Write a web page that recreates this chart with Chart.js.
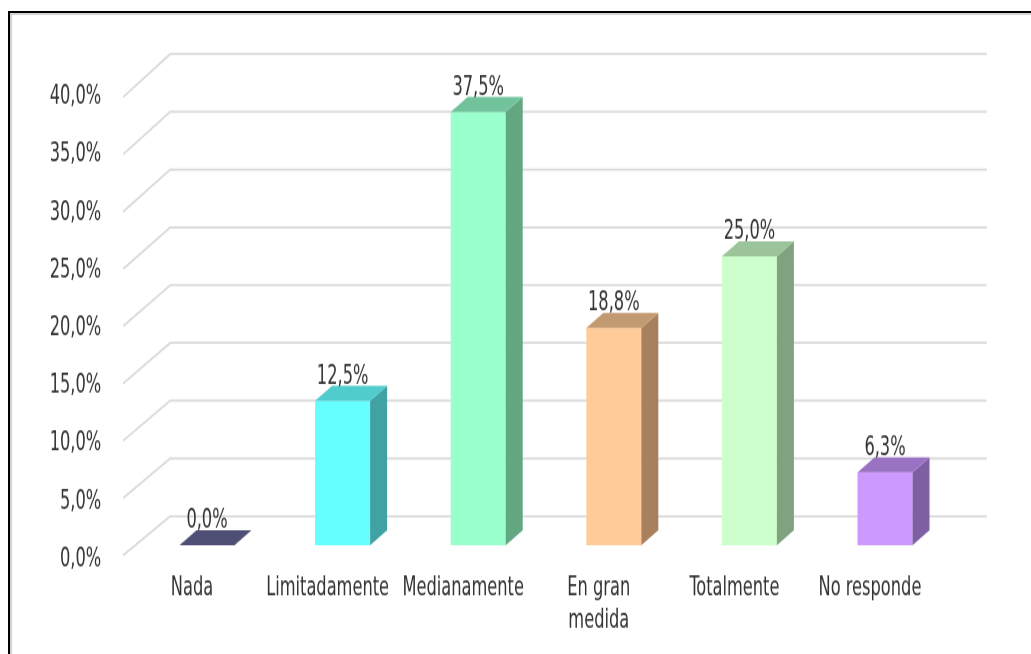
<!DOCTYPE html>
<html>
<head>
<meta charset="utf-8">
<script src="https://cdn.jsdelivr.net/npm/chart.js@4/dist/chart.umd.min.js"></script>
<style>
  html, body { margin: 0; padding: 0; background: #fff; overflow: hidden; }
  #wrap { position: relative; width: 1031px; height: 654px; }
  #frame { position: absolute; left: 8px; top: 11px; width: 1040px; height: 660px;
    border-left: 2px solid #000; border-top: 2px solid #000;
    box-shadow: inset 2px 2px 1px rgba(0,0,0,0.18); pointer-events: none; }
  canvas { position: absolute; left: 0; top: 0; }
</style>
</head>
<body>
<div id="wrap">
  <canvas id="c" width="1031" height="523" style="width:1031px;height:654px;"></canvas>
  <div id="frame"></div>
</div>
<script>
// ---- data ----
const categories = ['Nada', 'Limitadamente', 'Medianamente', ['En gran', 'medida'], 'Totalmente', 'No responde'];
const values = [0.0, 12.5, 37.5, 18.8, 25.0, 6.3];
const frontColors = ['#3d3d66', '#66ffff', '#99ffcc', '#ffcc99', '#ccffcc', '#cc99ff'];
const sideColors  = ['#3a3a5e', '#40a2a2', '#62a682', '#a8805e', '#80a27e', '#7e60a2'];
const topColors   = ['#4f4f75', '#50cccc', '#72c29c', '#c29a72', '#9cc49a', '#9a72c4'];
const yMin = 0, yMax = 40, yStep = 5;

const S = 654 / 523;            // vertical stretch of the canvas
const K = 0.82;                 // horizontal condensing of text
const DX = 17, DY = 15 / S;     // bar depth
const FONT = "'Liberation Sans Narrow', 'Arial Narrow', 'DejaVu Sans Condensed', sans-serif";
const fmt = v => v.toFixed(1).replace('.', ',') + '%';

const canvas = document.getElementById('c');
const c2d = canvas.getContext('2d');
const origFill = c2d.fillText.bind(c2d);
c2d.fillText = function (t, x, y, mw) {
  this.save();
  this.translate(x, y);
  this.scale(K, 1);
  if (mw === undefined) origFill(t, 0, 0); else origFill(t, 0, 0, mw / K);
  this.restore();
};

const threeD = {
  id: 'threeD',
  beforeDatasetsDraw(chart) {
    const { ctx, chartArea: a, scales: { y } } = chart;
    ctx.save();
    ctx.strokeStyle = '#d9d9d9';
    ctx.lineWidth = 1.7;
    y.ticks.forEach(t => {
      const yb = y.getPixelForValue(t.value);
      const fy = yb + (10 + 0.1 * t.value) / S;
      const by = yb - 29 / S;
      ctx.beginPath();
      ctx.moveTo(a.left - 16, fy);
      ctx.lineTo(a.left + 31, by);
      ctx.lineTo(a.right + 34, by);
      ctx.stroke();
    });
    ctx.restore();
  },
  afterDatasetsDraw(chart) {
    const { ctx } = chart;
    const meta = chart.getDatasetMeta(0);
    ctx.save();
    meta.data.forEach((bar, i) => {
      const { x, y, base, width } = bar.getProps(['x', 'y', 'base', 'width'], true);
      const l = x - width / 2, r = x + width / 2;
      if (base - y > 0.5) {
        ctx.fillStyle = sideColors[i];
        ctx.beginPath();
        ctx.moveTo(r, y); ctx.lineTo(r + DX, y - DY);
        ctx.lineTo(r + DX, base - DY); ctx.lineTo(r, base);
        ctx.closePath(); ctx.fill();
      }
      ctx.fillStyle = topColors[i];
      ctx.beginPath();
      ctx.moveTo(l, y); ctx.lineTo(r, y);
      ctx.lineTo(r + DX, y - DY); ctx.lineTo(l + DX, y - DY);
      ctx.closePath(); ctx.fill();
      // value label
      ctx.fillStyle = '#333';
      ctx.font = '22px ' + FONT;
      ctx.textAlign = 'center';
      ctx.textBaseline = 'alphabetic';
      ctx.fillText(fmt(values[i]), x, y - DY - 2);
    });
    ctx.restore();
  }
};

new Chart(canvas, {
  type: 'bar',
  data: {
    labels: categories,
    datasets: [{
      data: values,
      backgroundColor: frontColors,
      borderWidth: 0,
      barPercentage: 55 / 135.6,
      categoryPercentage: 1
    }]
  },
  options: {
    responsive: false,
    animation: false,
    devicePixelRatio: 1,
    layout: { padding: { top: 66.4, right: 78.2, bottom: 0, left: 0 } },
    plugins: { legend: { display: false }, tooltip: { enabled: false } },
    scales: {
      x: {
        grid: { display: false, drawTicks: false },
        border: { display: false },
        afterFit: s => { s.height = 87; },
        ticks: {
          color: '#333',
          font: { family: FONT, size: 22, lineHeight: 1.15 },
          padding: 22,
          labelOffset: -15,
          maxRotation: 0,
          autoSkip: false
        }
      },
      y: {
        min: yMin, max: yMax,
        grid: { display: false, drawTicks: false },
        border: { display: false },
        afterFit: s => { s.width = 139.2; },
        ticks: {
          stepSize: yStep,
          color: '#333',
          font: { family: FONT, size: 22 },
          padding: 38,
          labelOffset: 11,
          callback: v => fmt(v)
        }
      }
    }
  },
  plugins: [threeD]
});
</script>
</body>
</html>
